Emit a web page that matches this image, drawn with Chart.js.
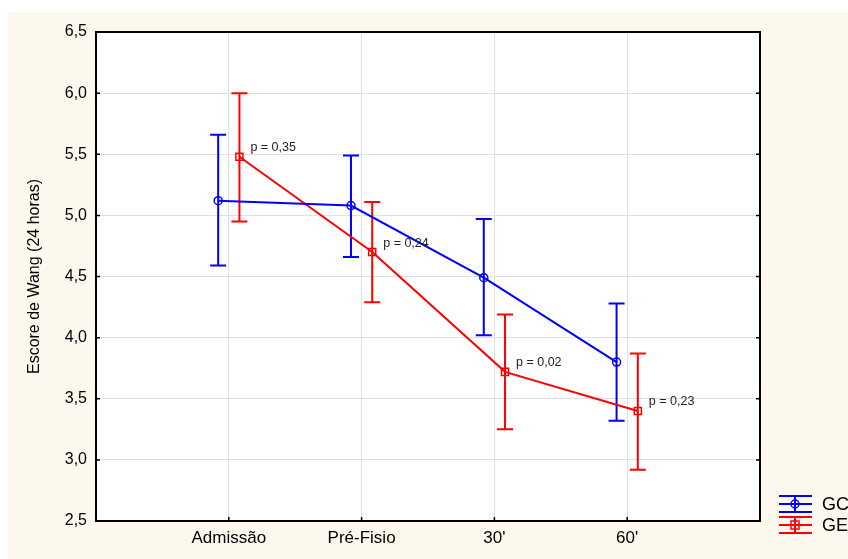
<!DOCTYPE html>
<html>
<head>
<meta charset="utf-8">
<script src="https://cdn.jsdelivr.net/npm/chart.js@4/dist/chart.umd.min.js"></script>
<style>
  html, body { margin: 0; padding: 0; background: #ffffff; }
  #wrap { width: 848px; height: 559px; position: relative; }
</style>
</head>
<body>
<div id="wrap"><canvas id="c" width="848" height="559"></canvas></div>
<script>
// ---- data ----
const categories = ['Admissão', 'Pré-Fisio', "30'", "60'"];
const seriesNames = ['GC', 'GE'];
const gcMean = [5.12, 5.08, 4.49, 3.80];
const gcLow  = [4.59, 4.66, 4.02, 3.32];
const gcHigh = [5.66, 5.49, 4.97, 4.28];
const geMean = [5.48, 4.70, 3.72, 3.40];
const geLow  = [4.95, 4.29, 3.25, 2.92];
const geHigh = [6.00, 5.11, 4.19, 3.87];
const pLabels = ['p = 0,35', 'p = 0,24', 'p = 0,02', 'p = 0,23'];
const yTicks = [2.5, 3.0, 3.5, 4.0, 4.5, 5.0, 5.5, 6.0, 6.5];

const BLUE = '#0000ff';
const RED = '#ff0000';
const SHIFT = 0.08;

function pts(means, dir) {
  return means.map((v, i) => ({ x: i + 1 + dir * SHIFT, y: v }));
}

const bgPlugin = {
  id: 'bg',
  beforeDraw(chart) {
    const ctx = chart.ctx;
    ctx.save();
    ctx.fillStyle = '#ffffff';
    ctx.fillRect(0, 0, chart.width, chart.height);
    ctx.fillStyle = '#fdf8ee';
    ctx.fillRect(8, 12, chart.width - 8, chart.height - 12);
    const a = chart.chartArea;
    ctx.fillStyle = '#ffffff';
    ctx.fillRect(a.left, a.top, a.right - a.left, a.bottom - a.top);
    ctx.restore();
  }
};

function drawErrBar(ctx, xs, ys, x, lo, hi, color) {
  const px = xs.getPixelForValue(x);
  const pl = ys.getPixelForValue(lo);
  const ph = ys.getPixelForValue(hi);
  ctx.strokeStyle = color;
  ctx.lineWidth = 2;
  ctx.beginPath();
  ctx.moveTo(px, pl); ctx.lineTo(px, ph);
  ctx.moveTo(px - 8, pl); ctx.lineTo(px + 8, pl);
  ctx.moveTo(px - 8, ph); ctx.lineTo(px + 8, ph);
  ctx.stroke();
}

const errPlugin = {
  id: 'err',
  beforeDatasetsDraw(chart) {
    const ctx = chart.ctx;
    const xs = chart.scales.x, ys = chart.scales.y;
    ctx.save();
    gcMean.forEach((v, i) => drawErrBar(ctx, xs, ys, i + 1 - SHIFT, gcLow[i], gcHigh[i], BLUE));
    geMean.forEach((v, i) => drawErrBar(ctx, xs, ys, i + 1 + SHIFT, geLow[i], geHigh[i], RED));
    ctx.restore();
  },
  afterDraw(chart) {
    const ctx = chart.ctx;
    const xs = chart.scales.x, ys = chart.scales.y;
    const a = chart.chartArea;
    ctx.save();
    // p labels
    ctx.fillStyle = '#222222';
    ctx.font = '12.5px "Liberation Sans", Arial, sans-serif';
    ctx.textAlign = 'left';
    ctx.textBaseline = 'middle';
    geMean.forEach((v, i) => {
      ctx.fillText(pLabels[i], xs.getPixelForValue(i + 1 + SHIFT) + 11, ys.getPixelForValue(v) - 9);
    });
    // frame
    ctx.strokeStyle = '#000000';
    ctx.lineWidth = 2;
    ctx.strokeRect(a.left, a.top, a.right - a.left, a.bottom - a.top);
    // inner tick marks
    ctx.lineWidth = 1.5;
    ctx.beginPath();
    yTicks.forEach(t => {
      const py = ys.getPixelForValue(t);
      ctx.moveTo(a.left, py); ctx.lineTo(a.left + 4, py);
      ctx.moveTo(a.right, py); ctx.lineTo(a.right - 4, py);
    });
    for (let i = 1; i <= categories.length; i++) {
      const px = xs.getPixelForValue(i);
      ctx.moveTo(px, a.bottom); ctx.lineTo(px, a.bottom - 4);
    }
    ctx.stroke();
    // legend
    const items = [
      { name: seriesNames[0], color: BLUE, yc: 504, shape: 'circle' },
      { name: seriesNames[1], color: RED, yc: 525, shape: 'square' }
    ];
    items.forEach(it => {
      const x0 = 779, x1 = 812, xc = 795;
      ctx.strokeStyle = it.color;
      ctx.lineWidth = 2;
      ctx.beginPath();
      ctx.moveTo(x0, it.yc - 8); ctx.lineTo(x1, it.yc - 8);
      ctx.moveTo(x0, it.yc); ctx.lineTo(x1, it.yc);
      ctx.moveTo(x0, it.yc + 8); ctx.lineTo(x1, it.yc + 8);
      ctx.moveTo(xc, it.yc - 8); ctx.lineTo(xc, it.yc + 8);
      ctx.stroke();
      ctx.lineWidth = 1.5;
      ctx.beginPath();
      if (it.shape === 'circle') ctx.arc(xc, it.yc, 4, 0, Math.PI * 2);
      else ctx.rect(xc - 4, it.yc - 4, 8, 8);
      ctx.stroke();
      ctx.fillStyle = '#000000';
      ctx.font = '18px "Liberation Sans", Arial, sans-serif';
      ctx.textAlign = 'left';
      ctx.textBaseline = 'middle';
      ctx.fillText(it.name, 822, it.yc + 1);
    });
    ctx.restore();
  }
};

new Chart(document.getElementById('c'), {
  type: 'line',
  data: {
    datasets: [
      {
        label: seriesNames[0],
        data: pts(gcMean, -1),
        borderColor: BLUE,
        borderWidth: 2,
        pointStyle: 'circle',
        pointRadius: 4,
        pointBorderWidth: 1.5,
        pointBackgroundColor: 'rgba(0,0,0,0)',
        pointBorderColor: BLUE,
        tension: 0
      },
      {
        label: seriesNames[1],
        data: pts(geMean, 1),
        borderColor: RED,
        borderWidth: 2,
        pointStyle: 'rect',
        pointRadius: 5,
        pointBorderWidth: 1.5,
        pointBackgroundColor: 'rgba(0,0,0,0)',
        pointBorderColor: RED,
        tension: 0
      }
    ]
  },
  options: {
    responsive: false,
    animation: false,
    devicePixelRatio: 1,
    layout: { padding: { top: 32, right: 88, left: 0, bottom: 0 } },
    plugins: { legend: { display: false }, tooltip: { enabled: false } },
    scales: {
      x: {
        type: 'linear',
        min: 0, max: 5,
        afterFit(s) { s.height = 38; },
        afterBuildTicks(s) { s.ticks = [1, 2, 3, 4].map(v => ({ value: v })); },
        ticks: {
          autoSkip: false,
          maxRotation: 0,
          padding: 7,
          color: '#000000',
          font: { family: '"Liberation Sans", Arial, sans-serif', size: 17 },
          callback: (v) => categories[v - 1] || ''
        },
        grid: { color: '#e0e0e0', lineWidth: 1, drawTicks: false },
        border: { display: false }
      },
      y: {
        type: 'linear',
        min: 2.5, max: 6.5,
        afterFit(s) { s.width = 96; },
        afterBuildTicks(s) { s.ticks = yTicks.map(v => ({ value: v })); },
        ticks: {
          padding: 9,
          color: '#000000',
          font: { family: '"Liberation Sans", Arial, sans-serif', size: 16 },
          callback: (v) => v.toFixed(1).replace('.', ',')
        },
        grid: { color: '#e0e0e0', lineWidth: 1, drawTicks: false },
        border: { display: false },
        title: {
          display: true,
          text: 'Escore de Wang (24 horas)',
          color: '#000000',
          font: { family: '"Liberation Sans", Arial, sans-serif', size: 16 },
          padding: { top: 25, bottom: 0 }
        }
      }
    }
  },
  plugins: [bgPlugin, errPlugin]
});
</script>
</body>
</html>
